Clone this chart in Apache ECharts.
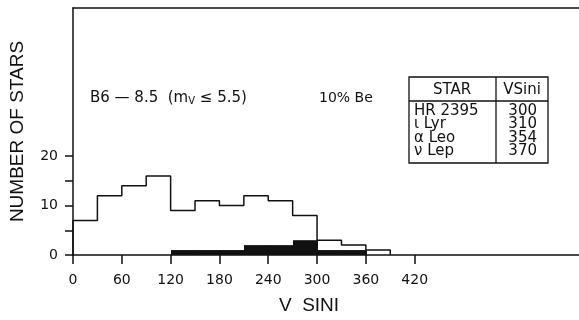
<!DOCTYPE html>
<html>
<head>
<meta charset="utf-8">
<script src="https://cdn.jsdelivr.net/npm/echarts@6/dist/echarts.min.js"></script>
<style>
html,body{margin:0;padding:0;background:#fff;}
#c{width:579px;height:320px;}
</style>
</head>
<body>
<div id="c"></div>
<script>
// ---- data ----
var binWidth = 30;
var binStarts = [0, 30, 60, 90, 120, 150, 180, 210, 240, 270, 300, 330, 360];
var allCounts = [7, 12, 14, 16, 9, 11, 10, 12, 11, 8, 3, 2, 1];
var beCounts  = [0, 0, 0, 0, 1, 1, 1, 2, 2, 3, 1, 1, 0];
var xTickValues = [0, 60, 120, 180, 240, 300, 360, 420];
var yTickValues = [0, 5, 10, 15, 20];
var yLabelValues = [0, 10, 20];
var tableStars = ['HR 2395', '\u03B9 Lyr', '\u03B1 Leo', '\u03BD Lep'];
var tableVsini = ['300', '310', '354', '370'];

var ink = '#111';
var font = 'DejaVu Sans';

// outline of full histogram as step line
var outline = [[binStarts[0], 0]];
for (var i = 0; i < binStarts.length; i++) outline.push([binStarts[i], allCounts[i]]);
outline.push([binStarts[binStarts.length - 1] + binWidth, 0]);

var beData = [];
for (var j = 0; j < binStarts.length; j++) {
  if (beCounts[j] > 0) beData.push([binStarts[j], binStarts[j] + binWidth, beCounts[j]]);
}

// table graphics
var tbl = {x0: 409, x1: 548, y0: 77, y1: 163, hy: 101, cx: 496};
var tf = '15px "' + font + '"';
var graphics = [
  {type: 'rect', shape: {x: tbl.x0, y: tbl.y0, width: tbl.x1 - tbl.x0, height: tbl.y1 - tbl.y0},
   style: {fill: 'none', stroke: ink, lineWidth: 1.3}},
  {type: 'line', shape: {x1: tbl.x0, y1: tbl.hy, x2: tbl.x1, y2: tbl.hy}, style: {stroke: ink, lineWidth: 1.3}},
  {type: 'line', shape: {x1: tbl.cx, y1: tbl.y0, x2: tbl.cx, y2: tbl.y1}, style: {stroke: ink, lineWidth: 1.3}},
  {type: 'text', x: 452, y: 90, style: {text: 'STAR', fill: ink, font: tf, textAlign: 'center', textVerticalAlign: 'middle'}},
  {type: 'text', x: 522, y: 90, style: {text: 'VSini', fill: ink, font: tf, textAlign: 'center', textVerticalAlign: 'middle'}},
  {type: 'text', x: 90, y: 98, style: {
    text: 'B6 \u2014 8.5  (m{s|V} \u2264 5.5)', fill: ink, font: '15px "' + font + '"', textVerticalAlign: 'middle',
    rich: {s: {fontSize: 10, fontFamily: font, fill: ink, padding: [6, 0, 0, 0]}}}},
  {type: 'text', x: 319, y: 98, style: {text: '10% Be', fill: ink, font: '14px "' + font + '"', textVerticalAlign: 'middle'}}
];
var rowY = [110.7, 124.3, 137.8, 151.3];
for (var k = 0; k < tableStars.length; k++) {
  graphics.push({type: 'text', x: 414, y: rowY[k], style: {text: tableStars[k], fill: ink, font: tf, textVerticalAlign: 'middle'}});
  graphics.push({type: 'text', x: 537, y: rowY[k], style: {text: tableVsini[k], fill: ink, font: tf, textAlign: 'right', textVerticalAlign: 'middle'}});
}

var chart = echarts.init(document.getElementById('c'), null, {renderer: 'canvas'});
chart.setOption({
  animation: false,
  backgroundColor: '#fff',
  grid: {left: 73, right: 0, top: 8, bottom: 62, containLabel: false},
  xAxis: [{
    type: 'value', min: 0, max: 622, position: 'bottom',
    name: 'V  SINI', nameLocation: 'middle', nameGap: 41,
    nameTextStyle: {fontFamily: 'Liberation Sans', fontSize: 19, color: ink, padding: [0, 34, 0, 0]},
    axisLine: {show: true, onZero: false, lineStyle: {color: ink, width: 1.5}},
    axisTick: {show: true, inside: false, length: 9, customValues: xTickValues, lineStyle: {color: ink, width: 1.5}},
    axisLabel: {show: true, margin: 18, customValues: xTickValues, fontFamily: font, fontSize: 14, color: ink},
    splitLine: {show: false}
  }, {
    type: 'value', min: 0, max: 622, position: 'top',
    axisLine: {show: true, onZero: false, lineStyle: {color: ink, width: 1.5}},
    axisTick: {show: false}, axisLabel: {show: false}, splitLine: {show: false}
  }],
  yAxis: {
    type: 'value', min: 0, max: 50,
    name: 'NUMBER OF STARS', nameLocation: 'middle', nameGap: 46, nameRotate: 90,
    nameTextStyle: {fontFamily: 'Liberation Sans', fontSize: 19, color: ink},
    axisLine: {show: true, onZero: false, lineStyle: {color: ink, width: 1.5}},
    axisTick: {show: true, inside: false, length: 8, customValues: yTickValues, lineStyle: {color: ink, width: 1.5}},
    axisLabel: {show: true, margin: 15, customValues: yLabelValues, fontFamily: font, fontSize: 14, color: ink},
    splitLine: {show: false}
  },
  series: [{
    type: 'custom',
    name: 'Be',
    data: beData,
    encode: {x: [0, 1], y: 2},
    renderItem: function (params, api) {
      var p0 = api.coord([api.value(0), api.value(2)]);
      var p1 = api.coord([api.value(1), 0]);
      var x0 = Math.round(p0[0]), x1 = Math.round(p1[0]) + 1;
      return {type: 'rect', shape: {x: x0, y: p0[1], width: x1 - x0, height: p1[1] - p0[1]},
              style: {fill: ink}};
    },
    z: 3
  }, {
    type: 'line',
    name: 'All',
    data: outline,
    step: 'end',
    symbol: 'none',
    lineStyle: {color: ink, width: 1.5},
    z: 4
  }],
  graphic: graphics
});
</script>
</body>
</html>
